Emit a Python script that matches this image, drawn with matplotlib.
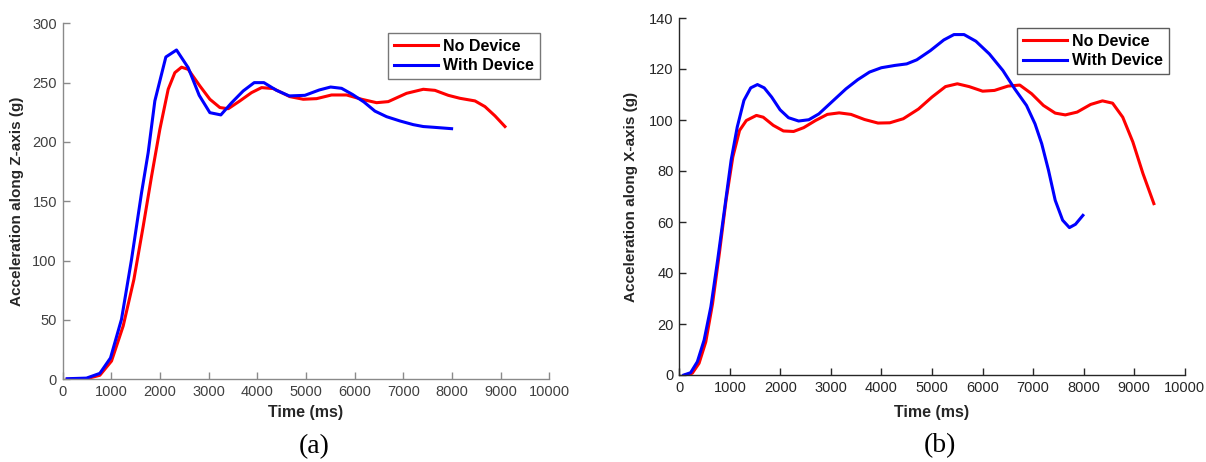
import numpy as np
import matplotlib
matplotlib.use('Agg')
import matplotlib.pyplot as plt

plt.rcParams['font.family'] = ['Liberation Sans', 'DejaVu Sans']

# (a) acceleration along Z-axis
za_t_no = [96, 493, 767, 1007, 1247, 1466, 1658, 1829, 2000, 2171, 2308, 2445, 2582, 2822,
           3027, 3233, 3404, 3644, 3884, 4089, 4329, 4671, 4945, 5219, 5527, 5836, 6144,
           6452, 6692, 7068, 7411, 7651, 7925, 8164, 8473, 8678, 8884, 9089]
za_g_no = [0, 0.5, 3.4, 15.4, 45, 84, 129, 171, 210.7, 244.4, 258.4, 263, 261.2, 247.2,
           236, 229, 228, 234.6, 241.6, 245.8, 245, 238.2, 236, 236.5, 239.6, 239.6, 236,
           233.1, 234, 241, 244.4, 243.5, 239.3, 236.8, 234.6, 229.8, 222, 213]
za_t_with = [96, 493, 767, 986, 1212, 1418, 1623, 1760, 1897, 2123, 2342, 2582, 2808, 3027,
             3253, 3473, 3712, 3938, 4137, 4397, 4658, 4979, 5274, 5507, 5733, 5959, 6192,
             6418, 6658, 6932, 7205, 7411, 7616, 7993]
za_g_with = [0.5, 1, 5, 18, 50.6, 101, 157, 191, 234.6, 271.6, 277.5, 262.6, 239.3, 224.7,
             222.8, 233, 243, 250, 250, 243.5, 238.8, 239.3, 243.8, 246.3, 245.2, 240, 233.7,
             226, 221.3, 217.7, 214.6, 213, 212.4, 211.2]

# (b) acceleration along X-axis
xa_t_no = [124, 257, 391, 524, 658, 792, 925, 1059, 1192, 1326, 1526, 1660, 1860, 2060, 2261,
           2461, 2695, 2929, 3163, 3397, 3664, 3931, 4165, 4432, 4732, 5000, 5267, 5501, 5735,
           6002, 6236, 6503, 6737, 6971, 7205, 7438, 7638, 7872, 8139, 8373, 8573, 8774, 8974,
           9174, 9390]
xa_g_no = [0, 0.7, 4.6, 13, 28, 47.6, 68.5, 85.5, 95.9, 99.8, 101.8, 101.1, 97.9, 95.7, 95.5,
           97, 99.8, 102.2, 102.8, 102.2, 100.2, 98.8, 98.9, 100.5, 104.3, 109, 113.1, 114.2,
           113.1, 111.3, 111.6, 113.3, 113.7, 110.3, 105.7, 102.7, 102, 103.1, 106.1, 107.5,
           106.6, 101.1, 91.4, 79, 67.2]
xa_t_with = [90, 224, 357, 491, 625, 758, 892, 1025, 1146, 1279, 1413, 1546, 1680, 1827, 1994,
             2161, 2361, 2562, 2762, 3029, 3297, 3530, 3764, 3998, 4265, 4499, 4699, 4967,
             5234, 5434, 5634, 5868, 6135, 6403, 6637, 6870, 7038, 7171, 7305, 7438, 7585,
             7719, 7839, 7986]
xa_g_with = [0, 0.9, 5.2, 13.7, 26.8, 45, 64.6, 84.2, 97.2, 107.7, 112.6, 113.9, 112.6, 109,
             104, 100.9, 99.6, 100.1, 102.4, 107.3, 112.2, 115.8, 118.8, 120.5, 121.4, 122,
             123.6, 127.2, 131.4, 133.5, 133.5, 130.9, 125.9, 119.4, 112.2, 105.7, 98.5, 90.7,
             80.3, 68.5, 60.7, 57.8, 59.1, 62.6]

W, H = 1206, 462
fig = plt.figure(figsize=(W / 100, H / 100), dpi=100)

def px_axes(l, r, top, bottom):
    return fig.add_axes([l / W, 1 - bottom / H, (r - l) / W, (bottom - top) / H])

def style(ax, spine_col, txt_col):
    for s in ['top', 'right']:
        ax.spines[s].set_visible(False)
    for s in ['left', 'bottom']:
        ax.spines[s].set_color(spine_col)
        ax.spines[s].set_linewidth(1.0)
    ax.tick_params(direction='in', length=5, width=1, color=spine_col,
                   labelcolor=txt_col, labelsize=10.5, pad=4)
    ax.set_xlim(0, 10000)
    ax.set_xticks(np.arange(0, 10001, 1000))

leg_kw = dict(prop={'weight': 'bold', 'size': 11.5}, fancybox=False,
              handlelength=2.8, handletextpad=0.3, borderpad=0.35,
              labelspacing=0.3, borderaxespad=0)

# panel (a)
ax1 = px_axes(62.5, 549.3, 23.3, 379.3)
ax1.plot(za_t_no, za_g_no, color='red', lw=2.2, label='No Device')
ax1.plot(za_t_with, za_g_with, color='blue', lw=2.2, label='With Device')
style(ax1, '#8a8a8a', '#404040')
ax1.set_ylim(0, 300)
ax1.set_yticks(np.arange(0, 301, 50))
ax1.set_xlabel('Time (ms)', fontsize=11.5, fontweight='bold', color='#262626', va='center')
ax1.xaxis.set_label_coords(0.5, (379.3 - 413) / 356)
ax1.set_ylabel('Acceleration along Z-axis (g)', fontsize=11, fontweight='bold',
               color='#262626', va='center')
ax1.yaxis.set_label_coords((17 - 62.5) / 486.8, (379.3 - 201) / 356)
lg = ax1.legend(loc='upper left', bbox_to_anchor=((388 - 62.5) / 486.8, (379.3 - 33) / 356),
                **leg_kw)
lg.get_frame().set_edgecolor('#555555')
lg.get_frame().set_linewidth(1.0)

# panel (b)
ax2 = px_axes(679.3, 1184.7, 18, 375)
ax2.plot(xa_t_no, xa_g_no, color='red', lw=2.2, label='No Device')
ax2.plot(xa_t_with, xa_g_with, color='blue', lw=2.2, label='With Device')
style(ax2, '#262626', '#262626')
ax2.set_ylim(0, 140)
ax2.set_yticks(np.arange(0, 141, 20))
ax2.set_xlabel('Time (ms)', fontsize=11.5, fontweight='bold', color='#262626', va='center')
ax2.xaxis.set_label_coords(0.5, (375 - 412) / 357)
ax2.set_ylabel('Acceleration along X-axis (g)', fontsize=11, fontweight='bold',
               color='#262626', va='center')
ax2.yaxis.set_label_coords((631 - 679.3) / 505.4, (375 - 197) / 357)
lg = ax2.legend(loc='upper left', bbox_to_anchor=((1017 - 679.3) / 505.4, (375 - 28) / 357),
                **leg_kw)
lg.get_frame().set_edgecolor('#333333')
lg.get_frame().set_linewidth(1.0)

# captions
fig.text(314 / W, 1 - 447 / H, '(a)', family='Liberation Serif', fontsize=20,
         ha='center', va='center')
fig.text(940 / W, 1 - 446 / H, '(b)', family='Liberation Serif', fontsize=20,
         ha='center', va='center')

fig.savefig('out.png', dpi=100)
